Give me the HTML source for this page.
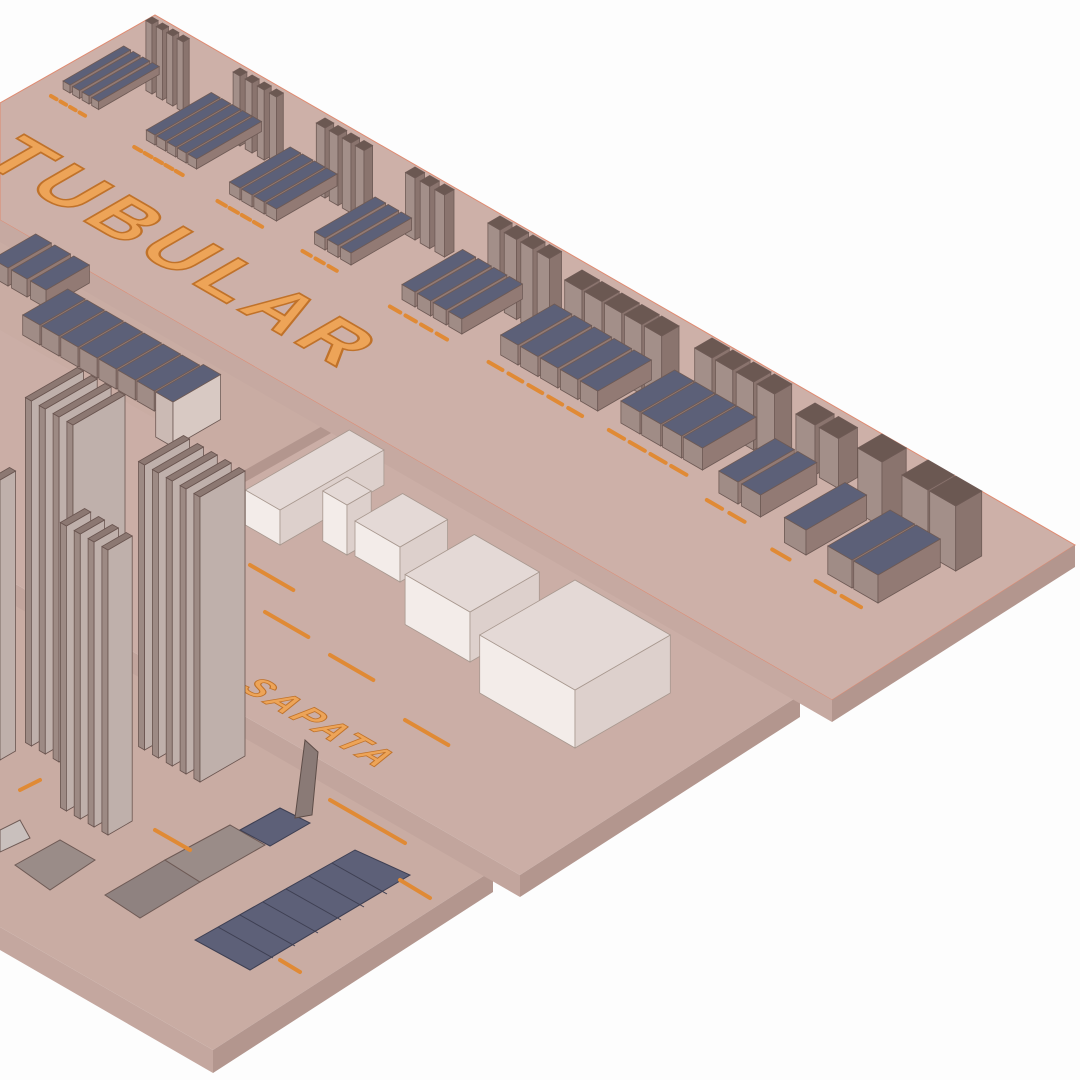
<!DOCTYPE html>
<html><head><meta charset="utf-8"><style>
html,body{margin:0;padding:0;background:#fdfdfd;}
svg{display:block}
</style></head><body>
<div style="position:relative;width:1080px;height:1080px">
<svg width="1080" height="1080" viewBox="0 0 1080 1080" xmlns="http://www.w3.org/2000/svg" style="position:absolute;left:0;top:0">
<rect width="1080" height="1080" fill="#fdfdfd"/>
<polygon points="0,585 493,870 213,1050 0,927" fill="#c9aca3"/>
<polygon points="493,870 213,1050 213,1073 493,892" fill="#b3968e"/>
<polygon points="213,1050 0,927 0,950 213,1073" fill="#c4a79f"/>
<polygon points="0,233 800,695 520,875 0,575" fill="#cbaea6"/>
<polygon points="800,695 520,875 520,897 800,717" fill="#b3968e"/>
<polygon points="520,875 0,575 0,597 520,897" fill="#c2a59d"/>
<polygon points="0,230 340,416 245,470 0,330" fill="#c9aca3"/>
<polygon points="340,416 245,470 245,482 340,428" fill="#b3968e"/>
<polygon points="0,103 155,15 1075,545 832,700 0,220" fill="#cdb0a8" stroke="#e08a70" stroke-width="1"/>
<polygon points="1075,545 832,700 832,722 1075,567" fill="#b3968e"/>
<polygon points="832,700 0,220 0,242 832,722" fill="#c6a9a1"/>
<text transform="matrix(0.866,0.5,-0.866,0.5,-22,160)" font-family="Liberation Sans, sans-serif" font-weight="bold" font-size="76" letter-spacing="8" fill="#eda458" stroke="#c0722a" stroke-width="2">TUBULAR</text>
<text transform="matrix(0.866,0.5,-0.866,0.5,238,688)" font-family="Liberation Sans, sans-serif" font-weight="bold" font-style="italic" font-size="36" letter-spacing="4" fill="#eda458" stroke="#c0722a" stroke-width="1">SAPATA</text>
<g id="g"></g>
</svg>
<svg width="1080" height="1080" viewBox="0 0 1080 1080" xmlns="http://www.w3.org/2000/svg" style="position:absolute;left:0;top:0">
<polygon points="195,940 355,850 410,875 250,970" fill="#5d6078" stroke="#3e3f52"/>
<g stroke="#3e3f52" stroke-width="1">
<line x1="218" y1="927" x2="273" y2="958"/><line x1="240" y1="915" x2="295" y2="946"/><line x1="263" y1="902" x2="318" y2="933"/><line x1="286" y1="889" x2="341" y2="920"/><line x1="309" y1="876" x2="364" y2="907"/><line x1="332" y1="863" x2="387" y2="894"/>
</g>
<polygon points="15,865 60,840 95,860 50,890" fill="#9a8c88" stroke="#6e5a55"/>
<polygon points="0,830 20,820 30,838 0,852" fill="#c9c0bd" stroke="#6e5a55"/>
<polygon points="105,895 165,860 200,882 140,918" fill="#8f8280" stroke="#6e5a55"/>
<polygon points="165,860 230,825 265,845 200,882" fill="#9a8c88" stroke="#6e5a55"/>
<polygon points="240,830 280,808 310,823 270,846" fill="#5d6078" stroke="#3e3f52"/>
<polygon points="295,818 305,740 318,752 312,815" fill="#8a7a76" stroke="#5e4d48"/>
<g stroke="#e08a35" stroke-width="4" stroke-linecap="round">
<line x1="330" y1="800" x2="405" y2="843"/><line x1="400" y1="880" x2="430" y2="898"/>
<line x1="280" y1="960" x2="300" y2="972"/><line x1="20" y1="790" x2="40" y2="780"/>
<line x1="155" y1="830" x2="190" y2="850"/>
</g>
</svg>
</div>
<script>
const U=[0.866,0.5],V=[-0.866,0.5];
function P(T,du,dv,dz){return [T[0]+du*U[0]+dv*V[0],T[1]+du*U[1]+dv*V[1]-dz];}
const items=[];
function pts(a){return a.map(p=>p[0].toFixed(1)+','+p[1].toFixed(1)).join(' ');}
function box(T,a,b,h,ct,cl,cr,stroke){
 items.push({d:T[1]+h+0.001*T[0],draw:()=>{
  const top=[T,P(T,-a,0,0),P(T,-a,-b,0),P(T,0,-b,0)];
  const lf=[T,P(T,-a,0,0),P(T,-a,0,-h),P(T,0,0,-h)];
  const rf=[T,P(T,0,-b,0),P(T,0,-b,-h),P(T,0,0,-h)];
  const st=stroke||'#6e5a55';
  return `<polygon points="${pts(lf)}" fill="${cl}" stroke="${st}" stroke-width="0.8"/>`+
   `<polygon points="${pts(rf)}" fill="${cr}" stroke="${st}" stroke-width="0.8"/>`+
   `<polygon points="${pts(top)}" fill="${ct}" stroke="${st}" stroke-width="0.8"/>`;}});
}
function label(G,len){
 items.push({d:G[1]-1,draw:()=>{const a=G,b=P(G,len,0,0);
 return `<line x1="${a[0]}" y1="${a[1]}" x2="${b[0]}" y2="${b[1]}" stroke="#e08a35" stroke-width="4" stroke-linecap="round"/>`;}});
}
function hgroup(T,n,s,L,sp,nolab){for(let i=0;i<n;i++){const t=P(T,i*sp,0,0);box(t,s,L,s,'#5c6078','#a08c86','#927a74');if(!nolab)label(P(t,-s,14,-s),s*0.8);}}
function vgroup(T,n,s,h,sp){for(let i=0;i<n;i++){const t=P(T,i*sp,0,0);box(t,s,s,h,'#6b5852','#a38f89','#8a746e');}}
hgroup([70,85],4,8,70,11);
hgroup([155,135],5,10,75,12);
hgroup([240,188],4,12,70,14);
hgroup([325,238],3,12,70,15);
hgroup([415,292],4,15,70,18);
hgroup([518,345],5,20,62,23);
hgroup([640,412],4,22,62,24);
hgroup([738,482],2,22,65,26);
hgroup([806,530],1,25,70,28);
hgroup([852,560],2,28,72,30);
vgroup([152,24],4,7,70,12);
vgroup([240,76],4,8,70,14);
vgroup([325,128],4,10,70,15);
vgroup([415,178],3,11,62,17);
vgroup([500,230],4,14,80,19);
vgroup([582,290],5,20,70,23);
vgroup([712,358],4,20,68,24);
vgroup([815,425],2,22,50,27);
vgroup([882,462],1,28,65,30);
vgroup([928,490],2,30,65,32);
// shelf tubes
hgroup([8,268],3,18,50,22,true);
hgroup([40,325],7,20,52,22,true);
box([173,402],20,55,45,'#5c6078','#cbbab4','#d8c9c3');
// white cubes
const W=['#e4d9d6','#f3ece9','#ddd0cc','#a8988f'];
box([280,510],40,120,35,W[0],W[1],W[2],W[3]);
box([347,505],28,28,50,W[0],W[1],W[2],W[3]);
box([400,547],52,55,35,W[0],W[1],W[2],W[3]);
box([470,612],75,80,50,W[0],W[1],W[2],W[3]);
box([575,690],110,110,58,W[0],W[1],W[2],W[3]);
function pgroup(T,n,b,h,sp){for(let i=0;i<n;i++){const t=P(T,-(n-1-i)*sp,0,0);box(t,7,b,h,'#8c7872','#9d8a84','#bfb0ab','#6a5550');}}
pgroup([73,425],4,60,345,16);
pgroup([0,480],1,18,280,16);
pgroup([200,497],5,52,285,16);
pgroup([108,550],4,28,285,16);
[[250,565],[265,612],[330,655],[405,720]].forEach(g=>label(g,50));
items.sort((a,b)=>a.d-b.d);
let h='';items.forEach(i=>h+=i.draw());
document.getElementById('g').innerHTML=h;
</script>
</body></html>
